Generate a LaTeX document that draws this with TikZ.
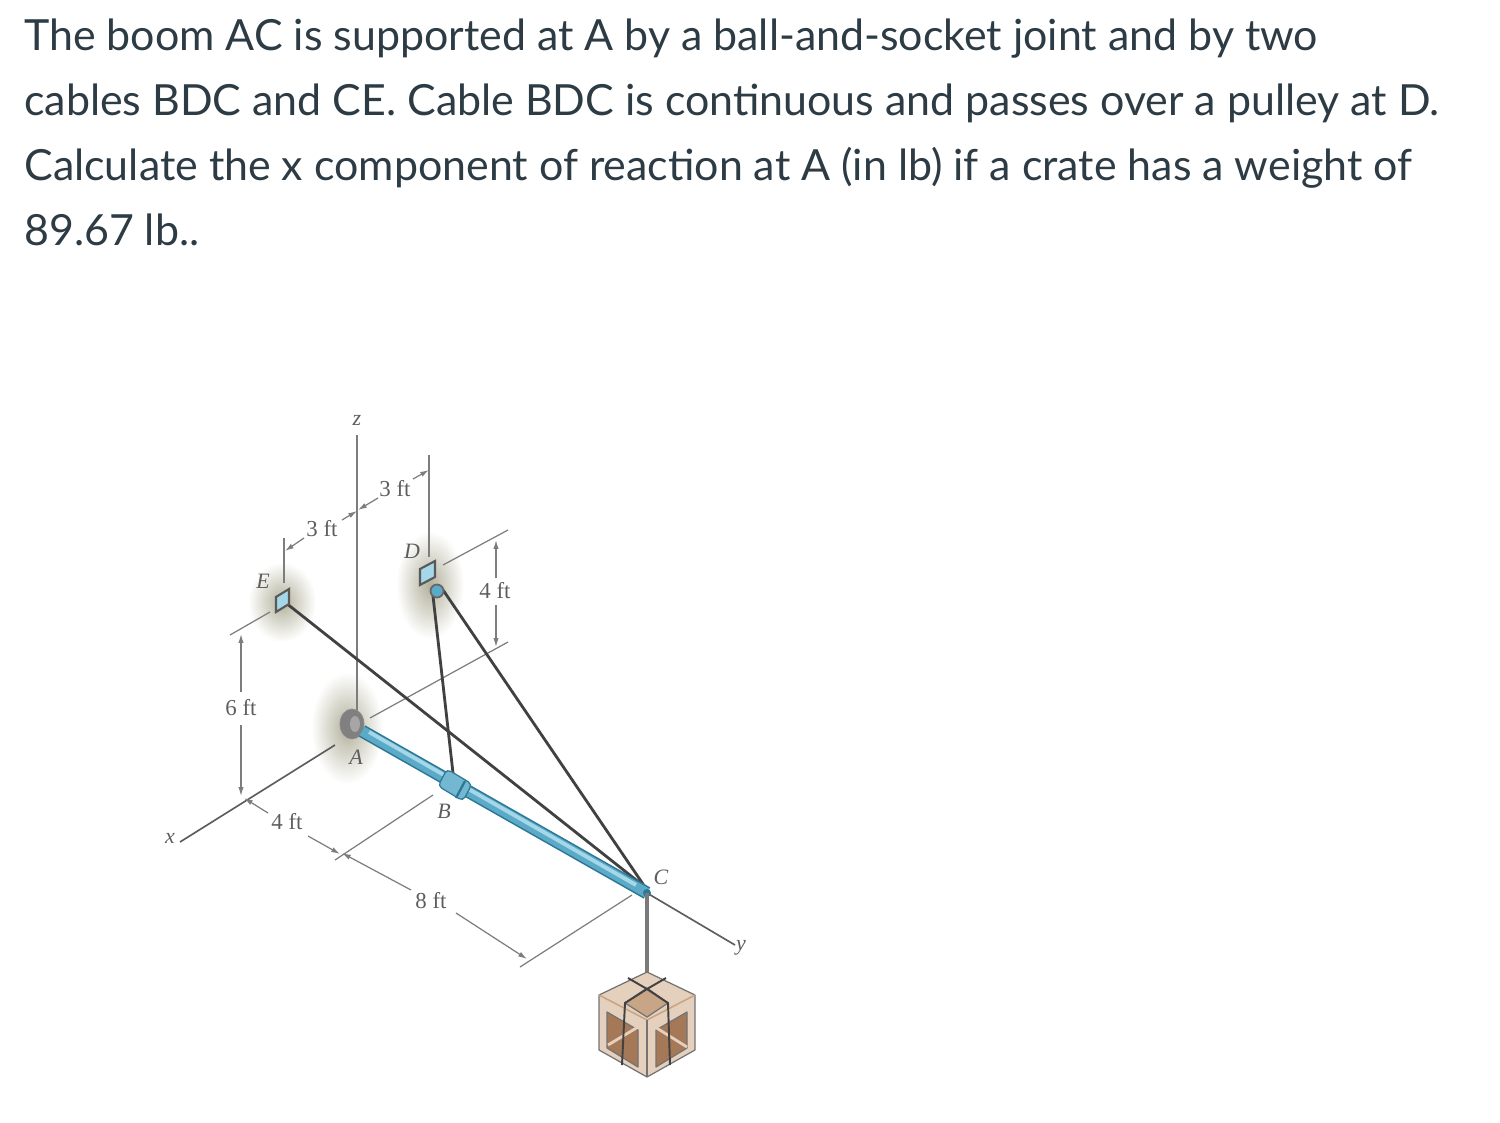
\documentclass[tikz,border=0pt]{standalone}
\usepackage{fontspec}
\setmainfont{Lato}
\newfontfamily\figfont{Liberation Serif}
\usetikzlibrary{arrows.meta}
\definecolor{textcol}{RGB}{45,59,69}
\definecolor{thincol}{RGB}{125,125,125}
\definecolor{cablecol}{RGB}{65,65,65}
\definecolor{boomcol}{RGB}{90,170,200}
\definecolor{boomlit}{RGB}{165,215,232}
\definecolor{boomdark}{RGB}{45,120,150}
\definecolor{halocol}{RGB}{178,176,155}
\definecolor{woodlit}{RGB}{228,208,188}
\definecolor{woodmid}{RGB}{200,165,135}
\definecolor{wooddark}{RGB}{165,120,88}
\tikzset{
	textline/.style={anchor=base west,inner sep=0,text=textcol,font=\fontsize{24.42pt}{24.42pt}\selectfont},
	dimlabel/.style={inner sep=0,text=thincol!75!black,font=\figfont\fontsize{13pt}{13pt}\selectfont},
	letterlabel/.style={inner sep=0,text=thincol!75!black,font=\figfont\itshape\fontsize{12.5pt}{12.5pt}\selectfont},
	thin line/.style={draw=thincol,line width=0.7pt},
	axis line/.style={draw=cablecol!85,line width=0.95pt},
	dim line/.style={thin line,-{Latex[length=5pt,width=3pt]}},
	cable/.style={draw=cablecol,line width=1.6pt},
	strap/.style={draw=cablecol,line width=1.1pt},
	halo/.style={inner color=halocol,outer color=white,draw=none},
	bracket/.style={draw=black!65,fill=boomlit,line width=1.2pt},
	wood/.style={draw=black!55,line width=0.7pt,line join=round}
}
\begin{document}
\begin{tikzpicture}[x=0.02cm,y=-0.02cm]
	\useasboundingbox (0,0) rectangle (1500,1122);
	% question text
	\node[textline] (line1) at (24,51) {The boom AC is supported at A by a ball-and-socket joint and by two};
	\node[textline] (line2) at (24,115.5) {cables BDC and CE. Cable BDC is continuous and passes over a pulley at D.};
	\node[textline] (line3) at (24,180.5) {Calculate the x component of reaction at A (in lb) if a crate has a weight of};
	\node[textline] (line4) at (24,245) {89.67 lb..};
	% points
	\coordinate (A) at (362,731);
	\coordinate (B) at (453,773);
	\coordinate (C) at (647,893);
	\coordinate (Dleft) at (433,596);
	\coordinate (Dright) at (441,587);
	\coordinate (E) at (286,603);
	\coordinate (Cend) at (645,887);
	\coordinate (ztop) at (357,435);
	\coordinate (xend) at (180,842);
	\coordinate (yend) at (735,945);
	\coordinate (crate) at (647,989);
	% glow behind the supports
	\shade[halo] (282,602) ellipse (34 and 40);
	\shade[halo] (430,585) ellipse (34 and 54);
	\shade[halo] (347,728) ellipse (36 and 56);
	% axes and dimension lines
	\draw[thin line] (ztop) -- (357,715);
	\draw[thin line] (429,455) -- (429,557);
	\draw[thin line] (284,538) -- (284,583);
	\draw[axis line] (xend) -- (335,745);
	\draw[axis line] (C) -- (yend);
	\draw[thin line] (230,635) -- (270,612);
	\draw[thin line] (443,565) -- (508,530);
	\draw[thin line] (370,718) -- (508,642);
	\draw[thin line] (335,860) -- (433,795);
	\draw[thin line] (520,967) -- (632,895);
	\draw[dim line] (241,692) -- (241,634);
	\draw[dim line] (241,725) -- (241,796);
	\draw[dim line] (496,578) -- (496,540);
	\draw[dim line] (496,605) -- (496,647);
	\draw[dim line] (304,538) -- (285,551);
	\draw[dim line] (342,520) -- (357,511);
	\draw[dim line] (378,498) -- (358,510);
	\draw[dim line] (413,479) -- (429,470);
	\draw[dim line] (268,813) -- (244,798);
	\draw[dim line] (308,836) -- (340,854);
	\draw[dim line] (411,890) -- (342,853);
	\draw[dim line] (456,913) -- (527,959);
	% cables behind the boom
	\draw[cable] (Dleft) -- (B);
	\draw[cable] (E) -- (Cend);
	\draw[cable] (Dright) -- (Cend);
	% supports
	\draw[bracket] (276,597) -- (289,589) -- (289,604) -- (276,612) -- cycle;
	\draw[bracket] (420,569) -- (435,561) -- (435,577) -- (420,585) -- cycle;
	\draw[draw=black!60,fill=boomcol,line width=1pt] (437,591) circle (6.5);
	\draw[draw=black!45,fill=black!50] (352,724) ellipse (12 and 15);
	\fill[black!35] (355,724) ellipse (5 and 8);
	% the boom
	\draw[boomdark,line width=7.4pt] (A) -- (C);
	\draw[boomcol,line width=5.6pt] (A) -- (C);
	\draw[boomlit,line width=2.2pt] (369,732) -- (636,885);
	% collar at B
	\draw[draw=boomdark,fill=boomcol!85!white,line width=0.7pt,rounded corners=2.5pt] (447,769) -- (472,784) -- (463,801) -- (438,786) -- cycle;
	\draw[boomdark,line width=1.3pt] (465,781) -- (456,798);
	\fill[boomdark] (C) circle (4);
	% crate and its rope
	\draw[draw=cablecol!70,line width=2.4pt] (C) -- (crate);
	\draw[wood,fill=woodlit] (647,972) -- (695,995) -- (695,1050) -- (647,1077) -- (599,1050) -- (599,995) -- cycle;
	\draw[wood,fill=woodmid] (647,988) -- (668,1003) -- (647,1017) -- (625,1003) -- cycle;
	\draw[wood,fill=wooddark] (607,1012) -- (638,1030) -- (638,1067) -- (607,1048) -- cycle;
	\draw[wood,fill=wooddark] (687,1012) -- (656,1030) -- (656,1067) -- (687,1048) -- cycle;
	\draw[woodlit,line width=1.6pt] (608,1045) -- (638,1027);
	\draw[woodlit,line width=1.6pt] (655,1027) -- (687,1047);
	\draw[woodmid,line width=0.9pt] (599,995) -- (647,1020) -- (695,995);
	\draw[wood] (647,1020) -- (647,1077);
	\draw[strap] (628,978) -- (crate) -- (668,1003) -- (670,1065);
	\draw[strap] (666,978) -- (crate) -- (625,1003) -- (622,1065);
	% labels
	\node[letterlabel] (zlabel) at (357,420) {z};
	\node[letterlabel] (xlabel) at (170,838) {x};
	\node[letterlabel] (ylabel) at (741,948) {y};
	\node[letterlabel] (Alabel) at (356,757) {A};
	\node[letterlabel] (Blabel) at (444,811) {B};
	\node[letterlabel] (Clabel) at (661,877) {C};
	\node[letterlabel] (Dlabel) at (412,551) {D};
	\node[letterlabel] (Elabel) at (263,581) {E};
	\node[dimlabel] (dimEz) at (322,529) {3 ft};
	\node[dimlabel] (dimzD) at (395,489) {3 ft};
	\node[dimlabel] (dimD) at (495,591) {4 ft};
	\node[dimlabel] (dimE) at (241,708) {6 ft};
	\node[dimlabel] (dimOB) at (287,822) {4 ft};
	\node[dimlabel] (dimBC) at (431,901) {8 ft};
\end{tikzpicture}
\end{document}
